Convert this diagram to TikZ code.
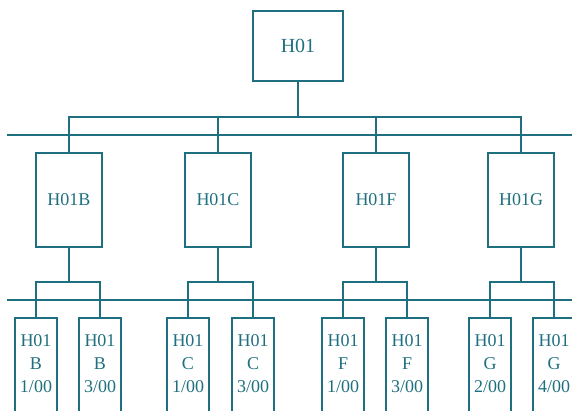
\documentclass[tikz,border=0pt]{standalone}
\usepackage{fontspec}
\setmainfont{Liberation Serif}
\usepackage{tikz}
\definecolor{hteal}{RGB}{30,112,128}
\tikzset{
  unit/.style={draw=hteal,line width=1.6pt,text=hteal,inner sep=0pt,
    font=\fontsize{18}{23}\selectfont},
  topbox/.style={unit,minimum width=90pt,minimum height=70pt,
    font=\fontsize{20}{24}\selectfont},
  midbox/.style={unit,minimum width=66pt,minimum height=94pt},
  leaf/.style={unit,minimum width=42pt,minimum height=110pt,anchor=north},
  leaftxt/.style={anchor=north,align=center,text=hteal,inner sep=0pt,
    yshift=-17pt,font=\fontsize{18}{23}\selectfont},
  wire/.style={hteal,line width=1.6pt}
}

\begin{document}
\begin{tikzpicture}[x=1pt,y=-1pt]
  \useasboundingbox (0,0) rectangle (572,410);
  \clip (0,0) rectangle (572,410);
  % levels
  \node[topbox] (h01) at (298,46) {H01};
  \node[midbox] (h01b) at (69,200) {H01B};
  \node[midbox] (h01c) at (218,200) {H01C};
  \node[midbox] (h01f) at (376,200) {H01F};
  \node[midbox] (h01g) at (521,200) {H01G};
  \node[leaf,label={[leaftxt]north:H01\\B\\1/00}] (b1) at (36,317) {};
  \node[leaf,label={[leaftxt]north:H01\\B\\3/00}] (b3) at (100,317) {};
  \node[leaf,label={[leaftxt]north:H01\\C\\1/00}] (c1) at (188,317) {};
  \node[leaf,label={[leaftxt]north:H01\\C\\3/00}] (c3) at (253,317) {};
  \node[leaf,label={[leaftxt]north:H01\\F\\1/00}] (f1) at (343,317) {};
  \node[leaf,label={[leaftxt]north:H01\\F\\3/00}] (f3) at (407,317) {};
  \node[leaf,label={[leaftxt]north:H01\\G\\2/00}] (g2) at (490,317) {};
  \node[leaf,label={[leaftxt]north:H01\\G\\4/00}] (g4) at (554,317) {};
  % bars and rails
  \coordinate (bar1) at (0,117);
  \coordinate (bar2) at (0,282);
  \coordinate (rail1w) at (7,135);
  \coordinate (rail1e) at (580,135);
  \coordinate (rail2w) at (7,300);
  \coordinate (rail2e) at (580,300);
  \draw[wire] (rail1w) -- (rail1e);
  \draw[wire] (rail2w) -- (rail2e);
  \draw[wire] (h01.south) -- (h01.south |- bar1);
  \draw[wire] (h01b.north) |- (h01g.north |- bar1) -- (h01g.north);
  \draw[wire] (h01c.north) -- (h01c.north |- bar1);
  \draw[wire] (h01f.north) -- (h01f.north |- bar1);
  \draw[wire] (h01b.south) -- (h01b.south |- bar2);
  \draw[wire] (h01c.south) -- (h01c.south |- bar2);
  \draw[wire] (h01f.south) -- (h01f.south |- bar2);
  \draw[wire] (h01g.south) -- (h01g.south |- bar2);
  \draw[wire] (b1.north) |- (b3.north |- bar2) -- (b3.north);
  \draw[wire] (c1.north) |- (c3.north |- bar2) -- (c3.north);
  \draw[wire] (f1.north) |- (f3.north |- bar2) -- (f3.north);
  \draw[wire] (g2.north) |- (g4.north |- bar2) -- (g4.north);
\end{tikzpicture}
\end{document}
